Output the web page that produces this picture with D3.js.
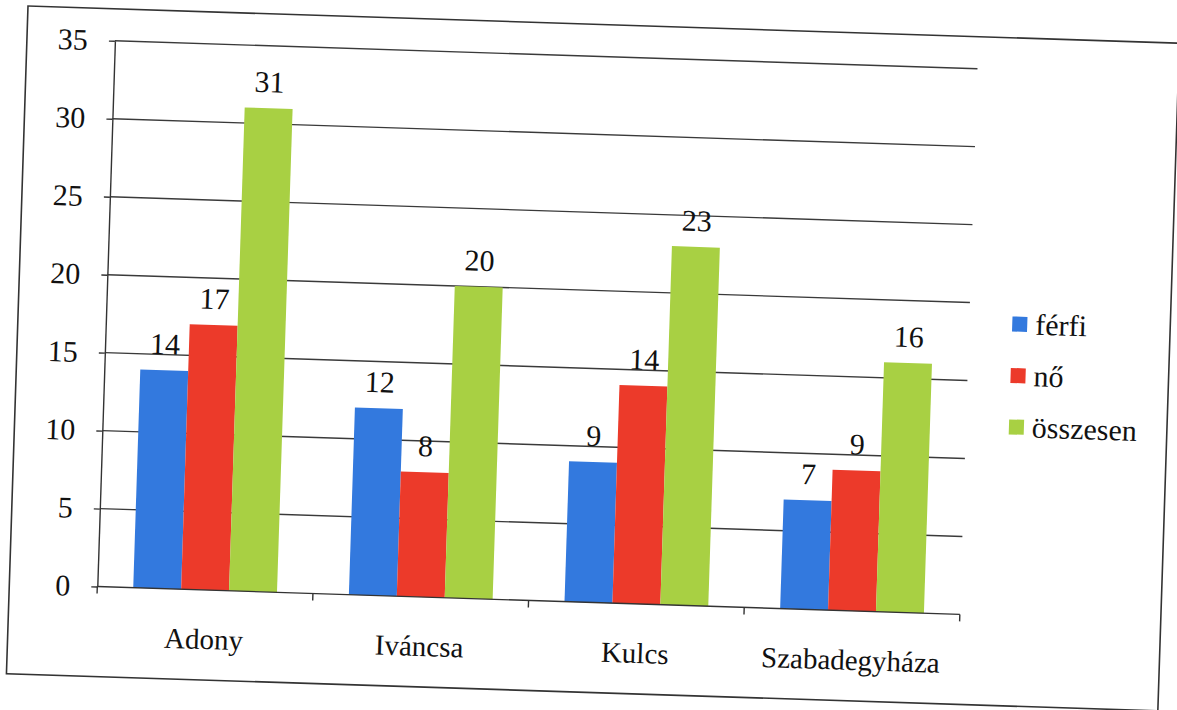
<!DOCTYPE html>
<html>
<head>
<meta charset="utf-8">
<script src="https://cdn.jsdelivr.net/npm/d3@7"></script>
<style>
  body { margin: 0; background: #fff; }
  svg text { text-rendering: geometricPrecision; }
</style>
</head>
<body>
<div class="graph"></div>
<script>
// data
var categories = ["Adony", "Iváncsa", "Kulcs", "Szabadegyháza"];
var series = ["férfi", "nő", "összesen"];
var ferfi = [14, 12, 9, 7];
var no = [17, 8, 14, 9];
var osszesen = [31, 20, 23, 16];
var yTicks = [0, 5, 10, 15, 20, 25, 30, 35];

var colors = ["#3379de", "#ec3a2a", "#a8d043"];
var values = [ferfi, no, osszesen];

var serif = "'Liberation Serif'";

var width = 1177;
var height = 710;

var svg = d3.select(".graph").append("svg")
  .attr("width", width)
  .attr("height", height);

// the page was scanned a little crooked, so the whole chart is tilted
var page = svg.append("g")
  .attr("transform", "translate(28,6) rotate(1.85)");

// outer chart border
page.append("rect")
  .attr("x", 0)
  .attr("y", 0)
  .attr("width", 1152)
  .attr("height", 668)
  .attr("fill", "none")
  .attr("stroke", "#333")
  .attr("stroke-width", 1.6);

var plotLeft = 88, plotRight = 951, plotTop = 32, plotBottom = 578;

var x0 = d3.scaleBand()
  .domain(categories)
  .range([plotLeft, plotRight])
  .padding(0);

var x1 = d3.scaleBand()
  .domain(series)
  .range([0, x0.bandwidth()])
  .paddingInner(0)
  .paddingOuter(0.75);

var y = d3.scaleLinear()
  .domain([0, 35])
  .range([plotBottom, plotTop]);

// gridlines
page.append("g")
  .selectAll("line")
  .data(yTicks.filter(d => d > 0))
  .enter().append("line")
  .attr("x1", plotLeft)
  .attr("x2", plotRight)
  .attr("y1", d => y(d))
  .attr("y2", d => y(d))
  .attr("stroke", "#3a3a3a")
  .attr("stroke-width", 1.4);

// bars
var groups = page.append("g")
  .selectAll("g")
  .data(categories)
  .enter().append("g")
  .attr("transform", d => "translate(" + x0(d) + ",0)");

groups.selectAll("rect")
  .data((c, i) => series.map((s, j) => ({ s: s, j: j, v: values[j][i] })))
  .enter().append("rect")
  .attr("x", d => x1(d.s))
  .attr("y", d => y(d.v))
  .attr("width", x1.bandwidth())
  .attr("height", d => y(0) - y(d.v))
  .attr("fill", d => colors[d.j]);

groups.selectAll("text")
  .data((c, i) => series.map((s, j) => ({ s: s, j: j, v: values[j][i] })))
  .enter().append("text")
  .attr("x", d => x1(d.s) + x1.bandwidth() / 2)
  .attr("y", d => y(d.v) - 16)
  .attr("text-anchor", "middle")
  .style("font-family", serif)
  .style("font-size", "30px")
  .style("fill", "#111")
  .text(d => d.v);

// y axis
var yAxis = d3.axisLeft(y)
  .tickValues(yTicks)
  .tickSize(6)
  .tickSizeOuter(0)
  .tickPadding(21);

var yAxisGroup = page.append("g")
  .attr("transform", "translate(" + plotLeft + ",0)")
  .call(yAxis);

yAxisGroup.attr("font-family", null);
yAxisGroup.select(".domain").attr("stroke", "#333").attr("stroke-width", 1.4);
yAxisGroup.selectAll(".tick line").attr("stroke", "#333").attr("stroke-width", 1.4);
yAxisGroup.selectAll(".tick text")
  .style("font-family", serif)
  .style("font-size", "30px")
  .style("fill", "#111");

// x axis baseline and ticks at category boundaries
page.append("line")
  .attr("x1", plotLeft)
  .attr("x2", plotRight)
  .attr("y1", y(0))
  .attr("y2", y(0))
  .attr("stroke", "#333")
  .attr("stroke-width", 1.4);

var bounds = categories.map(c => x0(c)).concat([plotRight]);
page.append("g")
  .selectAll("line")
  .data(bounds)
  .enter().append("line")
  .attr("x1", d => d)
  .attr("x2", d => d)
  .attr("y1", y(0))
  .attr("y2", y(0) + 7)
  .attr("stroke", "#333")
  .attr("stroke-width", 1.4);

page.append("g")
  .selectAll("text")
  .data(categories)
  .enter().append("text")
  .attr("x", d => x0(d) + x0.bandwidth() / 2)
  .attr("y", y(0) + 59)
  .attr("text-anchor", "middle")
  .style("font-family", serif)
  .style("font-size", "29px")
  .style("fill", "#111")
  .text(d => d);

// legend
var legend = page.append("g")
  .attr("transform", "translate(994,286)");

var items = legend.selectAll("g")
  .data(series)
  .enter().append("g")
  .attr("transform", (d, i) => "translate(0," + (i * 51.5) + ")");

items.append("rect")
  .attr("x", 0)
  .attr("y", -7.5)
  .attr("width", 15)
  .attr("height", 15)
  .attr("fill", (d, i) => colors[i]);

items.append("text")
  .attr("x", 23)
  .attr("y", 10)
  .style("font-family", serif)
  .style("font-size", "30px")
  .style("fill", "#111")
  .text(d => d);
</script>
</body>
</html>
